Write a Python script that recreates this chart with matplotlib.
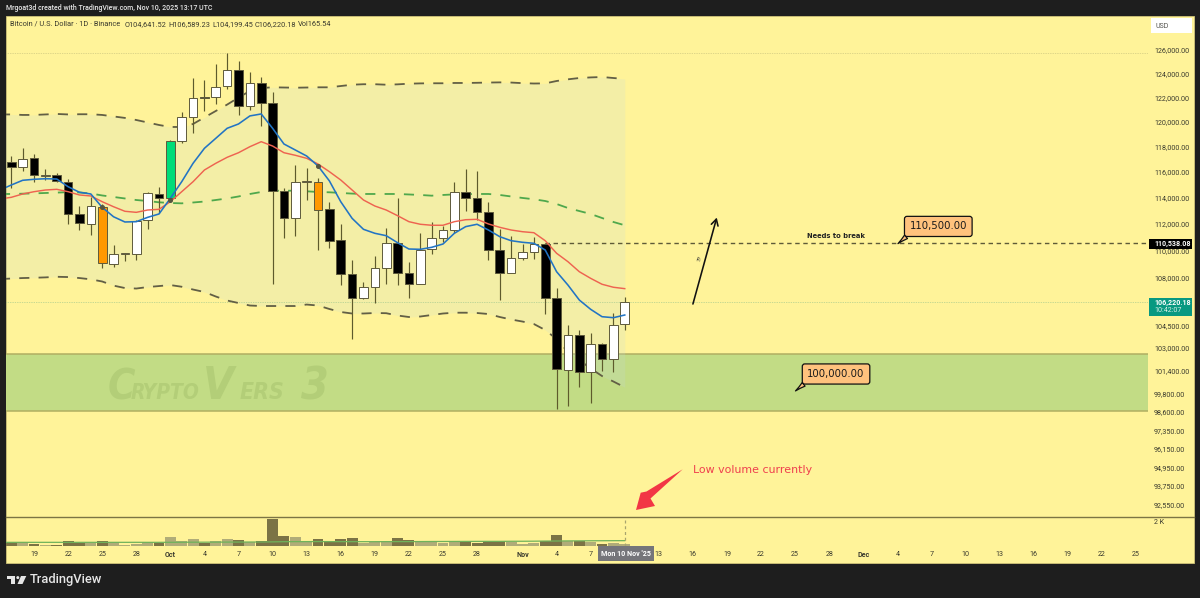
import numpy as np
import matplotlib
matplotlib.use("Agg")
import matplotlib.pyplot as plt
from matplotlib.patches import Rectangle, Polygon, Circle
from matplotlib.transforms import Affine2D
from matplotlib.ticker import FuncFormatter, NullLocator

# ---------- data ----------
opens = [116812,116369,117085,115711,115789,115238,112744,111984,113301,109006,109727,109749,112261,114283,
         113998,118486,120435,122049,122025,122935,124329,121284,123237,121580,114514,112417,115192,115238,113100,
         110750,108227,106525,107282,108710,110525,108300,107542,110075,110947,111548,114460,114000,112920,110000,108300,
         109428,109875,110472,106478,101426,103840,101270,103230,102185,104641.52]
highs = [117285,117878,117401,116259,115945,115431,113355,114075,113509,110397,109823,112284,114460,114802,
         118542,120840,123607,123464,124784,125720,125064,124111,123741,122489,114770,116551,116290,115509,113686,
         111984,109280,107684,109601,111662,113952,109132,111277,112111,111825,115192,116234,116078,113640,111577,111095,
         110447,110975,110525,107200,104570,104214,104025,103320,105400,106589.23]
lows = [114724,116100,115192,115371,115240,111984,111525,111150,108666,108740,109228,109280,111586,112797,
        113950,118278,119082,120921,121473,122689,120573,120978,119675,107498,110902,111075,113817,110023,110172,
        107448,103584,106428,106162,107498,107448,106481,107520,109727,110644,111277,112995,112284,109280,106356,108300,
        109280,109354,105350,98760,98980,100285,99200,101380,101310,104199.45]
closes = [116369,117054,115743,115789,115254,112744,112036,113332,109036,109727,109779,112231,114337,113998,
          118486,120435,121991,121991,122901,124329,121284,123237,121580,114491,112417,115192,115293,113048,110735,
          108227,106525,107282,108710,110525,108322,107542,110045,110947,111548,114460,114000,112920,110000,108322,109450,
          109875,110472,106478,101495,103840,101270,103230,102185,104590,106220.18]
volumes = [320,320,160,60,100,400,220,260,400,300,100,180,300,260,
           720,420,540,260,420,560,480,300,420,2140,780,720,400,560,340,
           580,660,240,320,320,620,480,340,300,220,320,380,260,380,380,340,
           140,220,380,860,380,420,340,180,240,180]
vol_ma = [293,293,293,293,293,293,293,293,293,293,293,293,295,293,293,
          296,300,305,305,310,312,315,318,320,330,345,350,352,355,
          352,348,347,347,347,350,352,352,355,360,362,365,368,370,372,372,
          378,380,385,395,400,408,412,418,422,425,427]
ema_fast = [114591,114981,115348,115426,115472,115449,114848,114414,114283,113253,112532,112134,112157,112487,112744,
            113948,115238,116685,117877,118678,119487,119837,120492,120654,119487,118222,117741,117262,116472,115300,
            113686,112411,111578,111277,111097,110570,110098,110075,110224,110472,111277,111782,111960,111525,111022,110720,
            110600,110525,110023,108417,107440,106356,105687,105160,105090,105280]
ema_slow = [113895,114025,114283,114460,114591,114645,114460,114206,114129,113686,113300,112950,112870,113048,113100,
            113686,114460,115238,116156,116685,117160,117525,118005,118406,118060,117525,117320,117080,116630,116024,
            115371,114591,113817,113355,113048,112615,112157,111960,111885,111885,112157,112307,112337,111984,111728,111525,
            111397,111322,110720,109780,109155,108417,107930,107498,107280,107180]
band_upper = [120614,120614,120573,120573,120614,120654,120614,120630,120630,120573,120451,120330,120161,119960,119755,
              119594,119594,119837,120370,120897,121423,122000,122547,122795,122853,122836,122820,122836,122853,122853,
              122960,123070,123110,123110,123070,123100,123155,123180,123190,123190,123215,123215,123230,123250,123265,123250,
              123200,123170,123180,123380,123520,123630,123680,123715,123630,123550]
band_mid = [114283,114283,114306,114330,114360,114391,114422,114400,114320,114168,114052,113936,113817,113740,113640,
            113586,113560,113625,113700,113817,113936,114090,114283,114437,114537,114537,114537,114490,114437,114414,
            114360,114313,114283,114283,114283,114283,114245,114206,114152,114206,114252,114268,114283,114283,114206,114090,
            113975,113875,113740,113510,113200,112970,112744,112437,112134,111885]
band_lower = [107880,107915,107952,107973,108000,108045,108025,107952,107858,107700,107400,107223,107187,107295,107367,
              107440,107317,107115,106935,106610,106320,106140,105960,105925,105925,105925,105925,106030,105960,105710,
              105495,105388,105388,105423,105410,105245,105138,105173,105280,105388,105445,105445,105423,105352,105138,104960,
              104815,104640,104214,103580,102670,102116,101530,101015,100640,100245]
orange_days = [8, 27]
green_days = [14]
cross_days = [8, 14, 27]
cross_prices = [113250, 113800, 116500]

price_ticks = [126000,124000,122000,120000,118000,116000,114000,112000,110000,108000,104500,103000,
               101400,99800,98600,97350,96150,94950,93750,92550]
time_tick_days = [2,5,8,11,14,17,20,23,26,29,32,35,38,41,45,48,51,57,60,63,66,69,72,75,78,81,84,87,90,93,96,99]
time_tick_labels = ["19","22","25","28","Oct","4","7","10","13","16","19","22","25","28","Nov","4","7",
                    "13","16","19","22","25","28","Dec","4","7","10","13","16","19","22","25"]
zone_top, zone_bottom = 102530, 98680
break_level = 110538.08
last_close = 106220.18
ath_level = 125720

# ---------- styling ----------
BG = "#FFF399"
DARK = "#1E1E1E"
TXT = "#3A3A2E"
plt.rcParams["font.family"] = ["Roboto", "DejaVu Sans"]

fig = plt.figure(figsize=(12, 5.98), dpi=100, facecolor=DARK)
W, H = 1200, 598
px = Affine2D().scale(1, -1).translate(0, H)   # pixel coords, y down

def ptext(x, y, s, **kw):
    kw.setdefault("va", "center")
    kw.setdefault("ha", "left")
    return fig.text(x, y, s, transform=px, **kw)

def prect(x0, y0, x1, y1, **kw):
    fig.add_artist(Rectangle((x0, y0), x1 - x0, y1 - y0, transform=px, **kw))

prect(6, 16, 1193.5, 562.5, facecolor=BG, edgecolor="#CFC37A", lw=0.6, zorder=-5)

L, R = 6, 1148
ax = fig.add_axes([L / W, (H - 516.5) / H, (R - L) / W, 500.5 / H], facecolor="none")
vax = fig.add_axes([L / W, (H - 546) / H, (R - L) / W, 29.5 / H], facecolor="none")

days = np.arange(len(closes))
line_days = np.arange(-1, len(closes))
xlim = (-0.467, 100.06)

o, h, l, c = map(np.array, (opens, highs, lows, closes))
up = c >= o

# zone and band fill
ax.axhspan(zone_bottom, zone_top, color="#C2DC85", lw=0, zorder=1)
for lev in (zone_top, zone_bottom):
    ax.axhline(lev, color="#B0AE62", lw=1.1, zorder=1.2)
ax.fill_between(line_days, band_lower, band_upper, color="#C3DADE", alpha=0.2, lw=0, zorder=1.5)

# level lines
ax.axhline(ath_level, color="#BDB878", lw=0.5, ls=(0, (1, 1.5)), zorder=1.6)
ax.axhline(last_close, color="#8FBF8A", lw=0.5, ls=(0, (1, 1.5)), zorder=1.6)
ax.hlines(break_level, 47, xlim[1], color="#5E5A38", lw=1.0, ls=(0, (3.2, 2.6)), zorder=1.6)

# watermark
WM = "#B3CE78"
for x, s, fs in [(108, "C", 30), (131, "RYPTO", 15), (203, "V", 32), (240, "ERS", 16.5), (301, "3", 32)]:
    ptext(x, 399, s, color=WM, fontsize=fs, fontweight="bold", fontstyle="italic", family=["DejaVu Sans"],
          fontstretch="condensed", va="baseline", zorder=1.7)

# bands
band_dash = (0, (5.6, 5.1))
ax.plot(line_days, band_upper, color="#625F45", lw=1.3, ls=band_dash, zorder=2)
ax.plot(line_days, band_lower, color="#625F45", lw=1.3, ls=band_dash, zorder=2)
ax.plot(line_days, band_mid, color="#4FA84C", lw=1.3, ls=band_dash, zorder=2)

# candles
body_colors = ["#FFFFFF" if u else "#000000" for u in up]
for d in orange_days:
    body_colors[d] = "#FF9800"
for d in green_days:
    body_colors[d] = "#00DC78"
ax.vlines(days, l, h, color="#5E5A2C", lw=0.85, zorder=3)
ax.bar(days, np.maximum(c, o) - np.minimum(c, o), bottom=np.minimum(c, o), width=0.76,
       color=body_colors, edgecolor="#5E5A3C", lw=0.7, zorder=3.2)

# moving averages
ax.plot(line_days, ema_slow, color="#EE6350", lw=1.05, zorder=4)
ax.plot(line_days, ema_fast, color="#2274C4", lw=1.15, zorder=4.1)
ax.plot(cross_days, cross_prices, ls="none", marker="o", ms=2.6, color="#55553F", zorder=4.2)

# axes config
ax.set_yscale("log")
ax.set_ylim(91839, 128938)
ax.set_xlim(*xlim)
ax.set_yticks(price_ticks)
ax.yaxis.set_minor_locator(NullLocator())
ax.yaxis.set_major_formatter(FuncFormatter(lambda v, _: f"{v:,.2f}"))
ax.yaxis.tick_right()
ax.tick_params(axis="y", length=0, pad=4.3, labelsize=5.1, labelcolor=TXT)
ax.set_xticks([])
for s in ax.spines.values():
    s.set_visible(False)

# hand drawings
ax.annotate("", xy=(62.1, 112470), xytext=(60.0, 106067),
            arrowprops=dict(arrowstyle="->,head_length=0.45,head_width=0.25", color="#111111", lw=1.15,
                            shrinkA=0, shrinkB=0), zorder=5)
ptext(699.5, 259, "??", fontsize=4.6, fontstyle="italic", rotation=72, ha="center", color="#333333")
ptext(836, 236, "Needs to break", fontsize=4.9, fontweight="bold", ha="center", color="#222222", family=["DejaVu Sans"])

for txt, tip, box in [("110,500.00", (78.05, 110500), (81.6, 111797)),
                      ("100,000.00", (69.03, 100000), (72.6, 101154))]:
    ax.annotate(txt, xy=tip, xytext=box, ha="center", va="center", fontsize=7.3, color="#1A1A1A",
                family=["DejaVu Sans"], zorder=6,
                bbox=dict(boxstyle="round,pad=0.5,rounding_size=0.25", fc="#FFC27D", ec="#111111", lw=0.9),
                arrowprops=dict(arrowstyle="wedge,tail_width=0.45,shrink_factor=0.4", fc="#FFC27D", ec="#111111",
                                lw=0.9, relpos=(0.05, 0), shrinkA=0, shrinkB=0))

ptext(693, 470, "Low volume currently", fontsize=7.9, color="#EF3F4E", fontweight="medium", family=["DejaVu Sans"])
fig.add_artist(Polygon([(682.7, 469.3), (650.5, 498.5), (655, 506), (636, 510), (640.7, 492.7), (646.5, 491.5)],
                       closed=True, transform=px, facecolor="#F23645", edgecolor="none", zorder=7))

# volume pane
vol_colors = ["#B0AC78" if u else "#7B7345" for u in up]
vax.bar(days, volumes, width=0.96, color=vol_colors, lw=0, zorder=2)
vax.plot(line_days, vol_ma, color="#6FB35A", lw=0.9, zorder=3)
vax.axvline(54, color="#A8A46E", lw=0.9, ls=(0, (2.4, 2.2)), zorder=3)
vax.set_xlim(*xlim)
vax.set_ylim(0, 2360)
vax.set_yticks([2000])
vax.set_yticklabels(["2 K"])
vax.yaxis.tick_right()
vax.tick_params(axis="y", length=0, pad=4.3, labelsize=5.1, labelcolor=TXT)
vax.set_xticks(time_tick_days)
vax.set_xticklabels(time_tick_labels)
vax.tick_params(axis="x", length=0, pad=3.4, labelsize=5.1, labelcolor=TXT)
for lab, s in zip(vax.get_xticklabels(), time_tick_labels):
    if s in ("Oct", "Nov", "Dec"):
        lab.set_fontweight("bold")
for s in vax.spines.values():
    s.set_visible(False)

# pane separator
fig.add_artist(plt.Line2D([6, 1193.5], [516.5, 516.5], transform=px, color="#7C7444", lw=1.0, zorder=8))

# tags
prect(1151, 18, 1192, 33, facecolor="white", edgecolor="none", zorder=8)
ptext(1156, 26, "USD", fontsize=5.0, color="#55554F", zorder=9)
prect(1149, 239.3, 1192, 248.7, facecolor="#000000", edgecolor="none", zorder=8)
ptext(1154, 244, "110,538.08", fontsize=5.1, color="white", fontweight="bold", zorder=9)
prect(1149, 297.7, 1192, 315.7, facecolor="#089981", edgecolor="none", zorder=8)
ptext(1154, 302.5, "106,220.18", fontsize=5.1, color="white", fontweight="bold", zorder=9)
ptext(1154, 310.7, "10:42:07", fontsize=5.1, color="#D8F0E6", zorder=9)
prect(598, 546, 654, 560.7, facecolor="#75757A", edgecolor="none", zorder=8)
ptext(626, 554, "Mon 10 Nov '25", fontsize=5.1, color="white", ha="center", fontweight="bold", zorder=9)

# header and legend
ptext(6, 8.3, "Mrgoat3d created with TradingView.com, Nov 10, 2025 13:17 UTC", fontsize=5.05, color="#E8E8E8", fontweight="medium")
ptext(10.5, 24.5, "Bitcoin / U.S. Dollar · 1D · Binance", fontsize=5.3, color=TXT)
for x, s in [(125, "O104,641.52"), (168.5, "H106,589.23"), (212, "L104,199.45"), (254.5, "C106,220.18"), (297.7, "Vol165.54")]:
    ptext(x, 24.5, s, fontsize=5.3, color=TXT)

# footer logo
logo = "#E6E6E6"
prect(6.5, 576, 15, 579, facecolor=logo, edgecolor="none")
prect(10.5, 576, 15, 584, facecolor=logo, edgecolor="none")
fig.add_artist(Circle((17.8, 577.6), 1.5, transform=px, facecolor=logo, edgecolor="none"))
fig.add_artist(Polygon([(21, 576), (26.3, 576), (22.5, 584), (17.5, 584)], closed=True, transform=px, facecolor=logo, edgecolor="none"))
ptext(29.3, 580, "TradingView", fontsize=9.3, color=logo, fontweight="medium")

fig.savefig("out.png", dpi=100, facecolor=DARK)
